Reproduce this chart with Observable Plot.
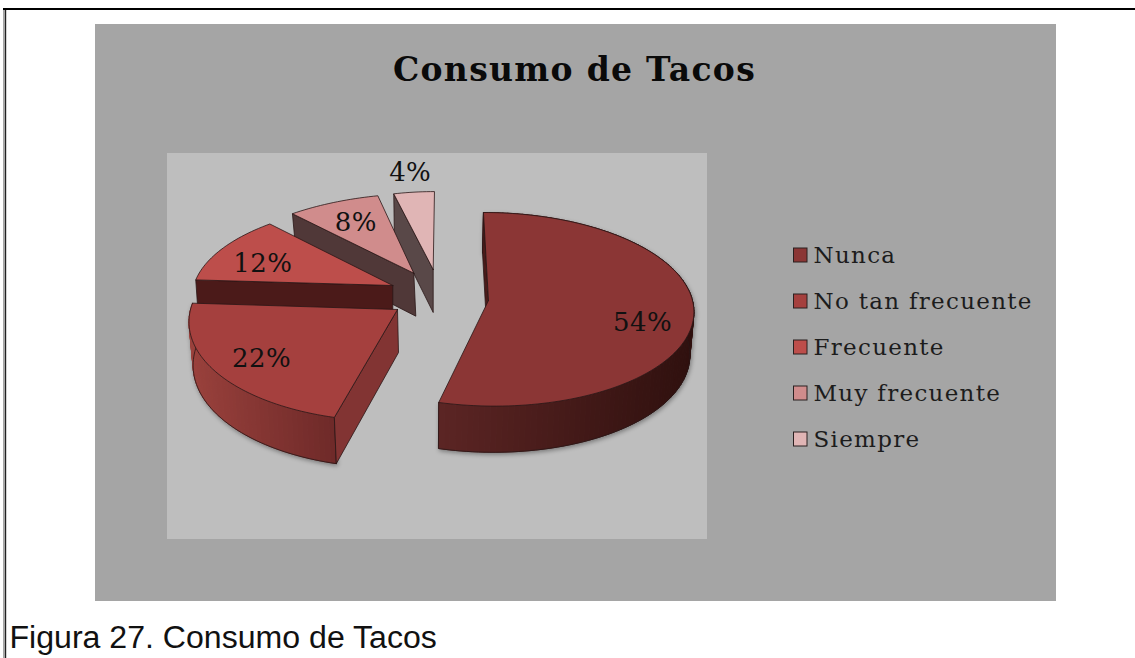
<!DOCTYPE html>
<html lang="es">
<head>
<meta charset="utf-8">
<title>Consumo de Tacos</title>
<script src="https://cdn.jsdelivr.net/npm/d3@7"></script>
<script src="https://cdn.jsdelivr.net/npm/@observablehq/plot@0.6"></script>
<style>
  html, body { margin: 0; padding: 0; background: #fff; overflow: hidden; }
  svg { display: block; }
  .chart-title text { letter-spacing: 1.3px; }
  .legend-text text { letter-spacing: 1.3px; }
  .value-text text { letter-spacing: 0.4px; }
</style>
</head>
<body>
<div id="chart"></div>
<script>
// Survey answers and their shares of the pie, in percent.
const categories = ["Nunca", "No tan frecuente", "Frecuente", "Muy frecuente", "Siempre"];
const percents = [54, 22, 12, 8, 4];

// Face colours of each wedge.
const topColors = ["#8b3635", "#a5403e", "#bd4e4b", "#d08c8c", "#e0b5b5"];
const sideColors = ["#4a1b1a", "#823433", "#4b1a19", "#503838", "#594848"];
const wallColors = [["#2f100e", "#5c2524"], ["#6f2a29", "#9a413c"], null, null, null];

// Exploded position and foreshortening of each wedge on the page.
const wedgeFrames = [
  {cx: 488, cy: 300, rx: 204, ry: 96, skew: 5.5, lift: -1, label: [154, 22]},
  {cx: 397, cy: 309, rx: 207, ry: 101.6, skew: -6.3, lift: 1, label: [-136, 49]},
  {cx: 392.3, cy: 285, rx: 199, ry: 90, skew: -7, lift: 0, label: [-130, -22]},
  {cx: 413.3, cy: 272.7, rx: 201, ry: 87, skew: -11.2, lift: 2, label: [-58, -51]},
  {cx: 432.7, cy: 269, rx: 178, ry: 85, skew: -1.4, lift: 0, label: [-23, -97]}
];

const perspective = -0.091;
const thickness = 43;
const arcStep = 1.5;

// Projects an angle on the tilted disc of a wedge to page coordinates.
function project(f, deg, lower) {
  const a = deg * Math.PI / 180;
  const X = Math.sin(a), Y = -Math.cos(a);
  const w = 1 + perspective * Y;
  const sx = lower ? 0.985 : 1, sy = lower ? 1.03 : 1;
  return {
    x: f.cx + (lower ? f.lift : 0) + sx * (f.rx * X + f.skew * Y) / w,
    y: f.cy + (lower ? thickness : 0) + sy * f.ry * Y / w
  };
}

const centre = (f, lower) => ({x: f.cx + (lower ? f.lift : 0), y: f.cy + (lower ? thickness : 0)});

function arc(f, a0, a1, lower) {
  const n = Math.max(2, Math.ceil((a1 - a0) / arcStep));
  return d3.range(n + 1).map(i => project(f, a0 + (a1 - a0) * i / n, lower));
}

// Cumulative start and end angles of the wedges, clockwise from twelve o'clock.
let running = 0;
const wedges = categories.map((name, i) => {
  const a0 = running * 3.6;
  running += percents[i];
  return {name, value: percents[i], a0, a1: running * 3.6, frame: wedgeFrames[i], i};
});

const outline = {stroke: "#2a1716", strokeWidth: 0.8, strokeLinejoin: "round", curve: "linear"};
const shadow = "drop-shadow(1px 2px 2px rgba(0,0,0,0.35))";

const closed = pts => [...pts, pts[0]];

function wedgeMarks(w) {
  const f = w.frame, marks = [], i = w.i;

  // Outer wall, shaded by narrow strips along the rim.
  if (wallColors[i]) {
    const upper = arc(f, w.a0, w.a1, false), lower = arc(f, w.a0, w.a1, true);
    const xs = d3.extent(upper.slice(i === 0 ? 40 : 0), d => d.x);
    const tint = d3.interpolateRgb(...wallColors[i]);
    const strips = d3.range(upper.length - 1).flatMap(k => {
      const t = Math.max(0, Math.min(1, (xs[1] - upper[k].x) / (xs[1] - xs[0])));
      const color = tint(t);
      return closed([upper[k], upper[k + 1], lower[k + 1], lower[k]]).map(p => ({...p, k, color}));
    });
    marks.push(Plot.line(strips, {x: "x", y: "y", z: "k", fill: "color", stroke: "color", strokeWidth: 1, curve: "linear", imageFilter: shadow}));
    marks.push(Plot.line([...lower, upper[upper.length - 1]], {x: "x", y: "y", ...outline}));
    marks.push(Plot.line([upper[0], lower[0]], {x: "x", y: "y", ...outline}));
  }

  // Cut face that looks towards the viewer.
  const cut = closed([centre(f, false), project(f, w.a0, false), project(f, w.a0, true), centre(f, true)]);
  marks.push(Plot.line(cut, {x: "x", y: "y", fill: sideColors[i], ...outline}));

  // Top face of the wedge.
  const top = closed([centre(f, false), ...arc(f, w.a0, w.a1, false)]);
  marks.push(Plot.line(top, {x: "x", y: "y", fill: topColors[i], ...outline}));
  return marks;
}

const legendRows = categories.map((name, i) => ({name, color: topColors[i], y: 255 + 46 * i}));
const valueLabels = wedges.map(w => ({
  text: `${w.value}%`,
  x: w.frame.cx + w.frame.label[0],
  y: w.frame.cy + w.frame.label[1]
}));

const chart = Plot.plot({
  width: 1135,
  height: 658,
  margin: 0,
  style: {background: "#fff"},
  x: {domain: [0, 1135], range: [0, 1135], axis: null},
  y: {domain: [0, 658], range: [0, 658], axis: null},
  color: {type: "identity"},
  marks: [
    // Page frame.
    Plot.ruleX([3.5], {y1: 8, y2: 658, stroke: "#8a8a8a", strokeWidth: 1.5}),
    Plot.ruleX([5.1], {y1: 8, y2: 658, stroke: "#222", strokeWidth: 1.2}),
    Plot.ruleY([8.5], {x1: 3, x2: 1135, stroke: "#000", strokeWidth: 2}),

    // Chart area and plot area.
    Plot.rect([0], {x1: 95, x2: 1056, y1: 24, y2: 601, fill: "#a5a5a5"}),
    Plot.rect([0], {x1: 167, x2: 707, y1: 153, y2: 539, fill: "#bebebe"}),

    // Wedges, back to front.
    [...wedges].reverse().flatMap(wedgeMarks),

    Plot.text(valueLabels, {x: "x", y: "y", text: "text", className: "value-text", fontFamily: "DejaVu Serif", fontSize: 26, fill: "#111", lineAnchor: "middle"}),

    Plot.text(["Consumo de Tacos"], {x: 574, y: 70, className: "chart-title", fontFamily: "DejaVu Serif", fontWeight: "bold", fontSize: 33, fill: "#0a0a0a", lineAnchor: "middle"}),

    // Legend.
    Plot.rect(legendRows, {x1: 793.5, x2: 807, y1: d => d.y - 7, y2: d => d.y + 7, fill: "color", stroke: "#2a2020", strokeWidth: 1}),
    Plot.text(legendRows, {x: 813, y: "y", dy: 0.5, text: "name", className: "legend-text", textAnchor: "start", lineAnchor: "middle", fontFamily: "DejaVu Serif", fontSize: 23, fill: "#1c1c1c"}),

    // Figure caption.
    Plot.text(["Figura 27. Consumo de Tacos"], {x: 9, y: 637, textAnchor: "start", lineAnchor: "middle", fontFamily: "Liberation Sans", fontSize: 32.1, fill: "#111"})
  ]
});

document.getElementById("chart").append(chart);
</script>
</body>
</html>
